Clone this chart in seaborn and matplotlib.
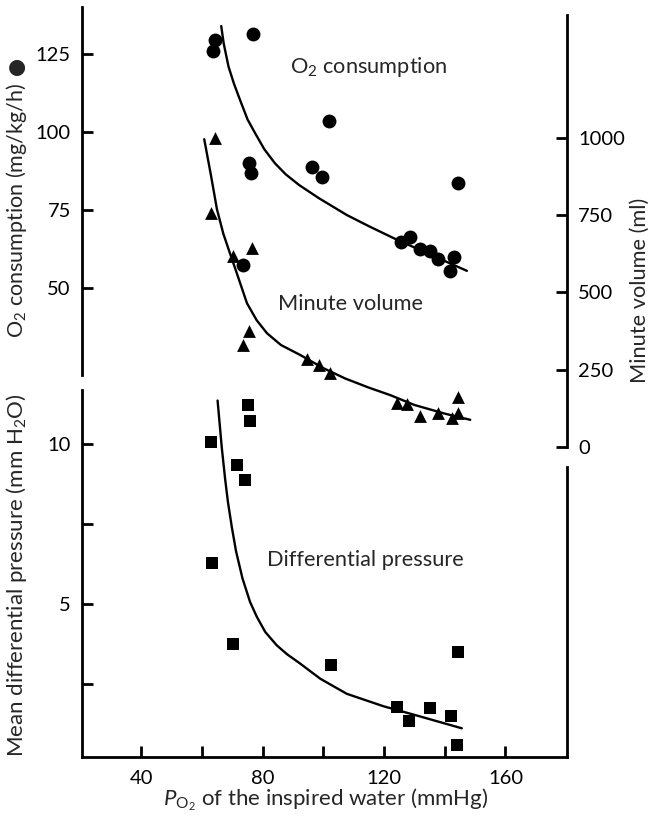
import matplotlib
matplotlib.use("Agg")
import matplotlib.pyplot as plt
import pandas as pd
import seaborn as sns

# ---------------- data ----------------
# O2 consumption (mg/kg/h) - circles
o2_x = [64.3, 63.6, 76.7, 101.7, 75.3, 76.2, 96.2, 99.5, 73.6, 144.3,
        125.5, 128.6, 131.9, 135.2, 137.9, 143.1, 141.8]
o2_y = [129.5, 126.0, 131.6, 103.6, 90.0, 87.0, 88.7, 85.5, 57.4, 83.8,
        64.6, 66.3, 62.4, 62.0, 59.3, 59.8, 55.5]
o2_fit_x = [66.3, 67.1, 68.7, 70.5, 72.5, 75.0, 77.5, 80.5, 84.0, 87.5,
            92.0, 98.5, 107.7, 115.0, 123.1, 135.0, 147.3]
o2_fit_y = [134.0, 128.5, 121.0, 115.5, 110.3, 104.0, 99.6, 94.5, 90.0, 86.5,
            83.0, 78.8, 73.4, 69.8, 66.0, 60.8, 55.5]

# Minute volume (ml) - triangles
mv_x = [64.3, 62.9, 70.3, 76.4, 75.3, 73.4, 94.7, 98.4, 102.3,
        124.4, 127.7, 131.7, 137.9, 142.3, 144.5, 144.5]
mv_y = [1000, 758, 618, 643, 376, 330, 284, 265, 240,
        141, 139, 100, 111, 93, 163, 109]
mv_fit_x = [60.7, 62.9, 64.9, 67.0, 69.0, 71.0, 74.8, 78.0, 81.4, 86.0,
            92.3, 100.0, 107.1, 115.0, 122.0, 130.0, 140.0, 148.4]
mv_fit_y = [996, 880, 769, 690, 632, 575, 465, 410, 368, 330,
            298, 255, 222, 192, 168, 136, 108, 88]

# Mean differential pressure (mm H2O) - squares
dp_x = [75.1, 75.8, 62.9, 71.5, 74.2, 63.2, 70.3, 102.4,
        124.4, 128.3, 135.2, 142.1, 144.3, 144.0]
dp_y = [11.23, 10.72, 10.07, 9.36, 8.87, 6.27, 3.75, 3.09,
        1.78, 1.32, 1.73, 1.50, 3.49, 0.59]
dp_fit_x = [65.1, 66.5, 67.6, 68.5, 69.8, 71.2, 73.3, 75.8, 78.0, 80.8,
            84.6, 88.0, 92.0, 99.0, 107.7, 119.8, 131.9, 145.6]
dp_fit_y = [11.37, 9.88, 8.90, 8.20, 7.40, 6.64, 5.80, 5.06, 4.60, 4.12,
            3.70, 3.42, 3.15, 2.65, 2.18, 1.79, 1.47, 1.10]

x_ticks = [40, 60, 80, 100, 120, 140, 160]
x_ticklabels = ["40", "", "80", "", "120", "", "160"]
o2_ticks = [50, 75, 100, 125]
mv_ticks = [0, 250, 500, 750, 1000]
dp_ticks = [2.5, 5, 7.5, 10]
dp_ticklabels = ["", "5", "", "10"]

# ---------------- style ----------------
sns.set_style("white")
FONT = ["Lato", "DejaVu Sans"]
plt.rcParams["font.family"] = FONT
plt.rcParams["mathtext.fontset"] = "custom"
plt.rcParams["mathtext.rm"] = "Lato"
plt.rcParams["mathtext.it"] = "Lato:italic"
plt.rcParams["axes.linewidth"] = 2.0

W, H = 649, 818
fig = plt.figure(figsize=(W / 100, H / 100), dpi=100)


def box(x0, y0, x1, y1):
    return [x0 / W, 1 - y1 / H, (x1 - x0) / W, (y1 - y0) / H]


ax_o2 = fig.add_axes(box(82, 7, 567, 375))
ax_mv = fig.add_axes(box(82, 15, 567, 447))
ax_dp = fig.add_axes(box(82, 390, 567, 757))
XLIM = (20.4, 180.3)
for a in (ax_o2, ax_mv, ax_dp):
    a.set_facecolor("none")
    a.set_xlim(*XLIM)
    for s in a.spines.values():
        s.set_linewidth(2.0)
        s.set_color("black")

LW = 1.7
TICK = dict(direction="in", length=8, width=2.0, labelsize=14.5, pad=8, colors="black")

# O2 consumption
sns.lineplot(x=o2_fit_x, y=o2_fit_y, ax=ax_o2, color="black", lw=LW, sort=False, estimator=None)
sns.scatterplot(x=o2_x, y=o2_y, ax=ax_o2, marker="o", s=100, color="black", edgecolor="black", linewidth=0)
ax_o2.set_ylim(22.1, 140.1)
ax_o2.set_yticks(o2_ticks)
ax_o2.set_xticks([])
for k in ("top", "right", "bottom"):
    ax_o2.spines[k].set_visible(False)
ax_o2.tick_params(axis="y", left=True, **TICK)

# Minute volume
sns.lineplot(x=mv_fit_x, y=mv_fit_y, ax=ax_mv, color="black", lw=LW, sort=False, estimator=None)
sns.scatterplot(x=mv_x, y=mv_y, ax=ax_mv, marker="^", s=85, color="black", edgecolor="black", linewidth=0)
ax_mv.set_ylim(0, 1398)
ax_mv.set_yticks(mv_ticks)
ax_mv.set_xticks([])
for k in ("top", "left", "bottom"):
    ax_mv.spines[k].set_visible(False)
ax_mv.yaxis.tick_right()
ax_mv.tick_params(axis="y", right=True, left=False, **TICK)

# Differential pressure
sns.lineplot(x=dp_fit_x, y=dp_fit_y, ax=ax_dp, color="black", lw=LW, sort=False, estimator=None)
sns.scatterplot(x=dp_x, y=dp_y, ax=ax_dp, marker="s", s=85, color="black", edgecolor="black", linewidth=0)
ax_dp.set_ylim(0.2, 11.7)
ax_dp.set_yticks(dp_ticks)
ax_dp.set_yticklabels(dp_ticklabels)
ax_dp.set_xticks(x_ticks)
ax_dp.set_xticklabels(x_ticklabels)
ax_dp.spines["top"].set_visible(False)
ax_dp.spines["right"].set_bounds(0.2, 9.28)
ax_dp.tick_params(axis="both", left=True, bottom=True, **TICK)
ax_dp.tick_params(axis="x", pad=9)

for a in (ax_o2, ax_mv, ax_dp):
    a.set_xlabel("")
    a.set_ylabel("")

LAB = 15.7
fig.text(290 / W, 1 - 67 / H, "O$_2$ consumption", fontsize=LAB, ha="left", va="center")
fig.text(278 / W, 1 - 304 / H, "Minute volume", fontsize=LAB, ha="left", va="center")
fig.text(267 / W, 1 - 560 / H, "Differential pressure", fontsize=LAB, ha="left", va="center")

fig.text(17 / W, 1 - 338 / H, "O$_2$ consumption (mg/kg/h)", fontsize=15.5,
         rotation=90, ha="center", va="bottom")
fig.text(17 / W, 1 - 67 / H, "\u25CF", fontsize=15, family=["DejaVu Sans"],
         ha="center", va="center")
fig.text(17 / W, 1 - 575 / H, "Mean differential pressure (mm H$_2$O)", fontsize=16,
         rotation=90, ha="center", va="center")
fig.text(640 / W, 1 - 290 / H, "Minute volume (ml)", fontsize=LAB,
         rotation=90, ha="center", va="center")
fig.text(326 / W, 1 - 800 / H, "$P_{\\mathrm{O}_2}$ of the inspired water (mmHg)", fontsize=16,
         ha="center", va="center")

fig.savefig("out.png", dpi=100)
